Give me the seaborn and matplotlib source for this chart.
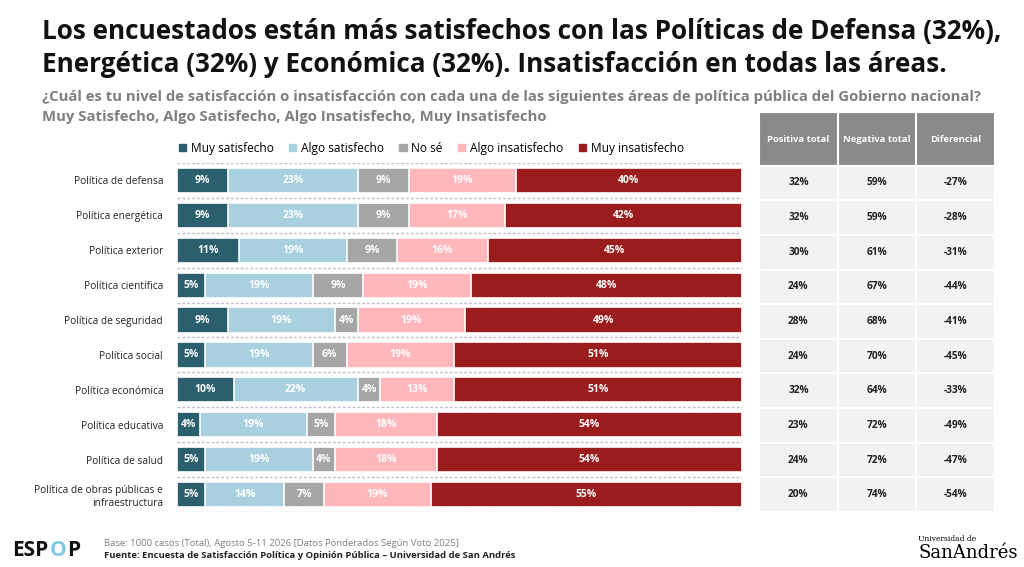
import numpy as np
import pandas as pd
import matplotlib
matplotlib.use('Agg')
import matplotlib.pyplot as plt
import seaborn as sns

# ------------------------
# Data
# ------------------------
areas = ['Política de defensa', 'Política energética', 'Política exterior', 'Política científica',
         'Política de seguridad', 'Política social', 'Política económica', 'Política educativa',
         'Política de salud', 'Política de obras públicas e\ninfraestructura']
muy_sat = [9, 9, 11, 5, 9, 5, 10, 4, 5, 5]
algo_sat = [23, 23, 19, 19, 19, 19, 22, 19, 19, 14]
no_se = [9, 9, 9, 9, 4, 6, 4, 5, 4, 7]
algo_insat = [19, 17, 16, 19, 19, 19, 13, 18, 18, 19]
muy_insat = [40, 42, 45, 48, 49, 51, 51, 54, 54, 55]
positiva = [32, 32, 30, 24, 28, 24, 32, 23, 24, 20]
negativa = [59, 59, 61, 67, 68, 70, 64, 72, 72, 74]
diferencial = [-27, -28, -31, -44, -41, -45, -33, -49, -47, -54]

series = ['Muy satisfecho', 'Algo satisfecho', 'No sé', 'Algo insatisfecho', 'Muy insatisfecho']
colors = ['#2b5f6e', '#a9d0de', '#a6a6a6', '#ffb7bc', '#9b1c1c']

df = pd.DataFrame({'area': areas, 'Muy satisfecho': muy_sat, 'Algo satisfecho': algo_sat,
                   'No sé': no_se, 'Algo insatisfecho': algo_insat, 'Muy insatisfecho': muy_insat})

plt.rcParams['font.family'] = ['Open Sans', 'DejaVu Sans']
fig = plt.figure(figsize=(10.24, 5.67), dpi=100)
W, H = 1024, 567

def axrect(x0, y0, x1, y1):
    return [x0 / W, 1 - y1 / H, (x1 - x0) / W, (y1 - y0) / H]

# ------------------------
# Titles
# ------------------------
fig.text(42 / W, 1 - 31 / H, 'Los encuestados están más satisfechos con las Políticas de Defensa (32%),',
         fontsize=18.8, fontweight='bold', color='#111111', va='center')
fig.text(42 / W, 1 - 65 / H, 'Energética (32%) y Económica (32%). Insatisfacción en todas las áreas.',
         fontsize=18.8, fontweight='bold', color='#111111', va='center')
fig.text(42 / W, 1 - 97 / H, '¿Cuál es tu nivel de satisfacción o insatisfacción con cada una de las siguientes áreas de política pública del Gobierno nacional?',
         fontsize=10.7, fontweight='bold', color='#7f7f7f', va='center')
fig.text(42 / W, 1 - 117 / H, 'Muy Satisfecho, Algo Satisfecho, Algo Insatisfecho, Muy Insatisfecho',
         fontsize=10.7, fontweight='bold', color='#7f7f7f', va='center')

# ------------------------
# Stacked bars
# ------------------------
ax = fig.add_axes(axrect(177, 163, 742, 512))
cum = df[series].cumsum(axis=1)
for i in range(len(series) - 1, -1, -1):
    sns.barplot(x=cum[series[i]], y=df['area'], color=colors[i], orient='h', saturation=1,
                width=0.72, edgecolor='white', linewidth=1.2, ax=ax)
starts = cum.shift(1, axis=1).fillna(0)
for j in range(len(areas)):
    for i, s in enumerate(series):
        ax.text(starts.iloc[j][s] + df.iloc[j][s] / 2, j, f'{df.iloc[j][s]}%', ha='center', va='center',
                fontsize=7.5, fontweight='bold', color='white')
ax.set_xlim(0, 100)
ax.set_ylim(len(areas) - 0.5, -0.5)
for y in np.arange(-0.5, len(areas), 1):
    ax.axhline(y, color='#bfbfbf', linestyle=(0, (2, 1.5)), linewidth=1, zorder=0)
ax.set_xlabel('')
ax.set_ylabel('')
ax.set_xticks([])
ax.tick_params(axis='y', length=0, labelsize=7.3, pad=10, labelcolor='#222222')
for s in ax.spines.values():
    s.set_visible(False)
ax.patch.set_alpha(0)

handles = [plt.Rectangle((0, 0), 1, 1, color=c) for c in colors]
ax.legend(handles, series, ncol=5, loc='lower left', bbox_to_anchor=(-0.012, 1.0), frameon=False,
          fontsize=8.6, handlelength=0.6, handleheight=0.6, handletextpad=0.4, columnspacing=1.3,
          borderaxespad=0.3)

# ------------------------
# Table on the right
# ------------------------
tab = fig.add_axes(axrect(759, 112, 995, 512))
tab.set_xlim(0, 3)
tab.set_ylim(len(areas) - 0.5, -2.05)
tab.axis('off')
headers = ['Positiva total', 'Negativa total', 'Diferencial']
cols = [positiva, negativa, diferencial]
for c in range(3):
    tab.add_patch(plt.Rectangle((c, -2.05), 1, 1.55, facecolor='#8a8a8a', edgecolor='white', linewidth=1.5))
    tab.text(c + 0.5, -1.27, headers[c], ha='center', va='center', color='white', fontsize=6.8, fontweight='bold')
    for j in range(len(areas)):
        tab.add_patch(plt.Rectangle((c, j - 0.5), 1, 1, facecolor='#f2f2f2', edgecolor='white', linewidth=1.5))
        tab.text(c + 0.5, j, f'{cols[c][j]}%', ha='center', va='center', fontsize=7.3, fontweight='bold', color='#222222')

# ------------------------
# Footer
# ------------------------
fig.text(12 / W, 1 - 550 / H, 'ESP', fontsize=15, fontweight='bold', color='#111111', va='center')
fig.text(50 / W, 1 - 550 / H, 'O', fontsize=15, fontweight='bold', color='#7ec8e3', va='center')
fig.text(67 / W, 1 - 550 / H, 'P', fontsize=15, fontweight='bold', color='#111111', va='center')
fig.text(104 / W, 1 - 543 / H, 'Base: 1000 casos (Total), Agosto 5-11 2026 [Datos Ponderados Según Voto 2025]',
         fontsize=6.8, color='#7f7f7f', va='center')
fig.text(104 / W, 1 - 555 / H, 'Fuente: Encuesta de Satisfacción Política y Opinión Pública – Universidad de San Andrés',
         fontsize=6.8, fontweight='bold', color='#222222', va='center')
fig.text(918 / W, 1 - 539 / H, 'Universidad de', fontsize=5.5, family='DejaVu Serif', va='center')
fig.text(918 / W, 1 - 553 / H, 'SanAndrés', fontsize=13, family='DejaVu Serif', va='center')

fig.savefig('out.png', dpi=100)
